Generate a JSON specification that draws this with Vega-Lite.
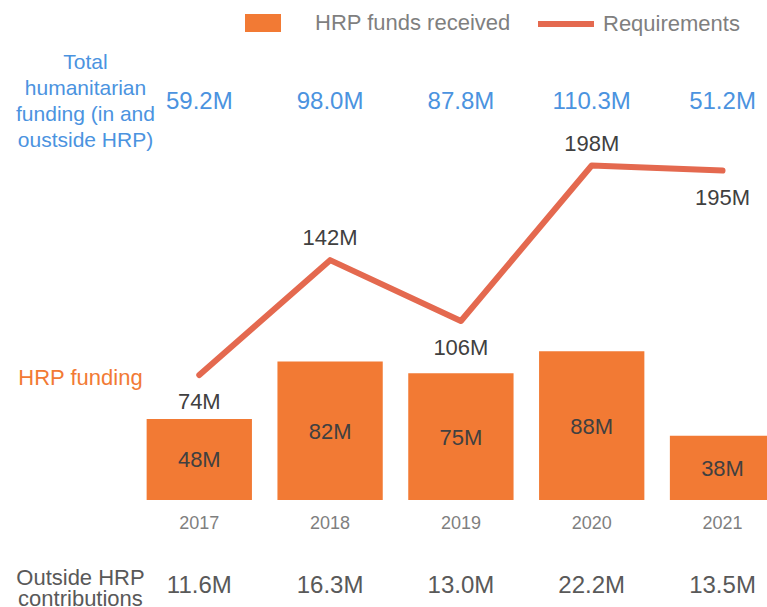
{
  "$schema": "https://vega.github.io/schema/vega-lite/v6.json",
  "width": 767,
  "height": 500,
  "autosize": "none",
  "padding": {"left": 0, "top": 0, "right": 0, "bottom": 107},
  "background": "white",
  "config": {"view": {"stroke": null}, "font": "Liberation Sans"},
  "data": {
    "values": [
      {"year": "2017", "funds": 48, "fundsLabel": "48M", "req": 74, "reqLabel": "74M", "total": "59.2M", "outside": "11.6M"},
      {"year": "2018", "funds": 82, "fundsLabel": "82M", "req": 142, "reqLabel": "142M", "total": "98.0M", "outside": "16.3M"},
      {"year": "2019", "funds": 75, "fundsLabel": "75M", "req": 106, "reqLabel": "106M", "total": "87.8M", "outside": "13.0M"},
      {"year": "2020", "funds": 88, "fundsLabel": "88M", "req": 198, "reqLabel": "198M", "total": "110.3M", "outside": "22.2M"},
      {"year": "2021", "funds": 38, "fundsLabel": "38M", "req": 195, "reqLabel": "195M", "total": "51.2M", "outside": "13.5M"}
    ]
  },
  "encoding": {
    "x": {
      "field": "year",
      "type": "nominal",
      "title": null,
      "scale": {"domain": ["label", "2017", "2018", "2019", "2020", "2021"], "range": [0, 791], "paddingInner": 0.195, "paddingOuter": 0.121},
      "axis": {
        "labelExpr": "datum.value == 'label' ? '' : datum.label",
        "labelAngle": 0,
        "labelFontSize": 18,
        "labelColor": "#7f7f7f",
        "labelFont": "Liberation Sans",
        "labelPadding": 14,
        "ticks": false,
        "domain": false,
        "grid": false
      }
    }
  },
  "layer": [
    {
      "mark": {"type": "bar", "clip": true},
      "encoding": {
        "y": {"field": "funds", "type": "quantitative", "scale": {"domain": [0, 296], "nice": false}, "axis": null},
        "fill": {
          "datum": "HRP funds received",
          "type": "nominal",
          "scale": {"domain": ["HRP funds received"], "range": ["#f27a34"]},
          "legend": {
            "orient": "none", "legendX": 245, "legendY": 5, "title": null, "padding": 0,
            "symbolType": "M-1,-0.5H1V0.5H-1Z", "symbolSize": 1296, "symbolStrokeWidth": 0, "symbolOpacity": 1,
            "labelFontSize": 22, "labelColor": "#7f7f7f", "labelFont": "Liberation Sans", "labelOffset": 34, "labelLimit": 0
          }
        }
      }
    },
    {
      "mark": {"type": "line", "strokeWidth": 6, "strokeCap": "round", "strokeJoin": "round"},
      "encoding": {
        "y": {"field": "req", "type": "quantitative", "scale": {"domain": [0, 296], "nice": false}, "axis": null},
        "stroke": {
          "datum": "Requirements",
          "type": "nominal",
          "scale": {"domain": ["Requirements"], "range": ["#e4694f"]},
          "legend": {
            "orient": "none", "legendX": 535, "legendY": -7, "title": null, "padding": 0,
            "symbolType": "stroke", "symbolSize": 3136, "symbolStrokeWidth": 6,
            "labelFontSize": 22, "labelColor": "#7f7f7f", "labelFont": "Liberation Sans", "labelOffset": 6, "labelLimit": 0
          }
        }
      }
    },
    {
      "mark": {"type": "text", "fontSize": 22, "color": "#404040", "baseline": "middle", "dy": 1},
      "encoding": {
        "y": {"field": "funds", "type": "quantitative", "scale": {"domain": [0, 592], "nice": false}, "axis": null},
        "text": {"field": "fundsLabel"}
      }
    },
    {
      "transform": [{"filter": {"field": "year", "oneOf": ["2018", "2020"]}}],
      "mark": {"type": "text", "fontSize": 22, "color": "#404040", "baseline": "alphabetic", "dy": -15},
      "encoding": {
        "y": {"field": "req", "type": "quantitative", "scale": {"domain": [0, 296], "nice": false}, "axis": null},
        "text": {"field": "reqLabel"}
      }
    },
    {
      "transform": [{"filter": {"field": "year", "oneOf": ["2017", "2019", "2021"]}}],
      "mark": {"type": "text", "fontSize": 22, "color": "#404040", "baseline": "alphabetic", "dy": 34},
      "encoding": {
        "y": {"field": "req", "type": "quantitative", "scale": {"domain": [0, 296], "nice": false}, "axis": null},
        "text": {"field": "reqLabel"}
      }
    },
    {
      "mark": {"type": "text", "fontSize": 24, "color": "#4b93df", "baseline": "alphabetic"},
      "encoding": {
        "y": {"datum": 231.5, "type": "quantitative", "scale": {"domain": [0, 296], "nice": false}, "axis": null},
        "text": {"field": "total"}
      }
    },
    {
      "mark": {"type": "text", "fontSize": 24, "color": "#595959", "baseline": "alphabetic"},
      "encoding": {
        "y": {"datum": -55.1, "type": "quantitative", "scale": {"domain": [0, 296], "nice": false}, "axis": null},
        "text": {"field": "outside"}
      }
    },
    {
      "data": {"values": [{"year": "label", "text": "Total\nhumanitarian\nfunding (in and\noustside HRP)"}]},
      "mark": {"type": "text", "fontSize": 21, "color": "#4b93df", "baseline": "alphabetic", "align": "center", "lineBreak": "\n", "lineHeight": 26, "dx": 17},
      "encoding": {
        "y": {"datum": 255.2, "type": "quantitative", "scale": {"domain": [0, 296], "nice": false}, "axis": null},
        "text": {"field": "text"}
      }
    },
    {
      "data": {"values": [{"year": "label", "text": "HRP funding"}]},
      "mark": {"type": "text", "fontSize": 22, "color": "#f27a34", "baseline": "alphabetic", "align": "center", "dx": 12},
      "encoding": {
        "y": {"datum": 68.1, "type": "quantitative", "scale": {"domain": [0, 296], "nice": false}, "axis": null},
        "text": {"field": "text"}
      }
    },
    {
      "data": {"values": [{"year": "label", "text": "Outside HRP\ncontributions"}]},
      "mark": {"type": "text", "fontSize": 22, "color": "#595959", "baseline": "alphabetic", "align": "center", "lineBreak": "\n", "lineHeight": 21, "dx": 12},
      "encoding": {
        "y": {"datum": -50.3, "type": "quantitative", "scale": {"domain": [0, 296], "nice": false}, "axis": null},
        "text": {"field": "text"}
      }
    }
  ],
  "resolve": {"scale": {"y": "independent"}}
}
